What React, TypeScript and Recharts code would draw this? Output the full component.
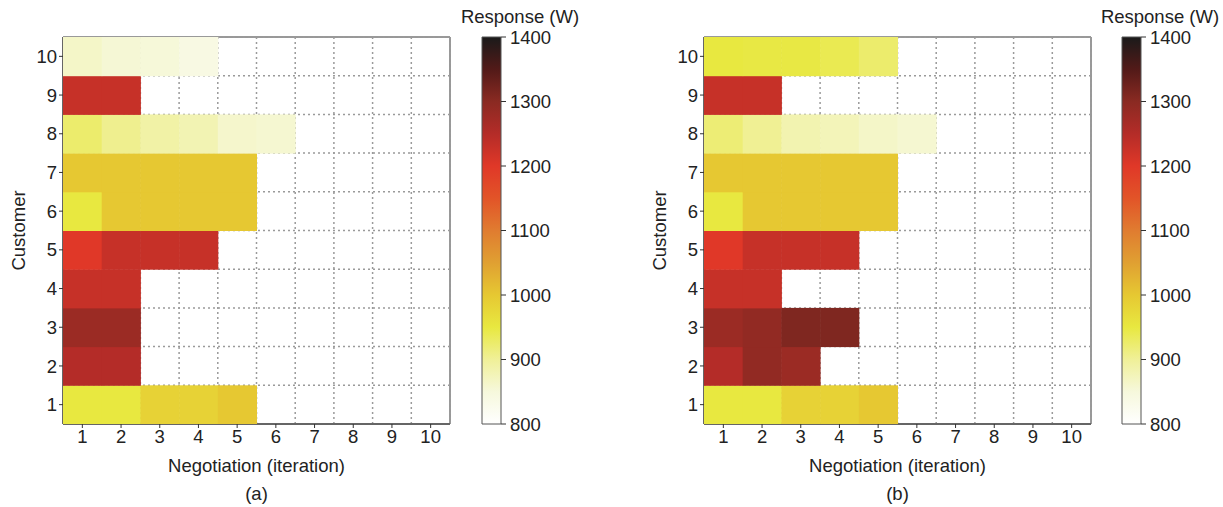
import {
  ScatterChart,
  Scatter,
  XAxis,
  YAxis,
  ReferenceLine,
  ReferenceArea,
  BarChart,
  Bar,
} from 'recharts'

const iterations = [1, 2, 3, 4, 5, 6, 7, 8, 9, 10]
const customers = [1, 2, 3, 4, 5, 6, 7, 8, 9, 10]
const boundaries = [0.5, 1.5, 2.5, 3.5, 4.5, 5.5, 6.5, 7.5, 8.5, 9.5, 10.5]
const colorTicks = [800, 900, 1000, 1100, 1200, 1300, 1400]
const colorRange = [{ name: 'bar', range: [800, 1400] }]

// Response (W) per customer (row 1..10), per negotiation iteration; null = no bid
const heatA: (number | null)[][] = [
  [950, 950, 985, 985, 1000, null, null, null, null, null],
  [1250, 1250, null, null, null, null, null, null, null, null],
  [1280, 1280, null, null, null, null, null, null, null, null],
  [1230, 1230, null, null, null, null, null, null, null, null],
  [1200, 1230, 1230, 1230, null, null, null, null, null, null],
  [950, 1000, 1000, 1000, 1000, null, null, null, null, null],
  [1000, 1000, 1000, 1000, 1000, null, null, null, null, null],
  [925, 905, 890, 880, 862, 858, null, null, null, null],
  [1230, 1230, null, null, null, null, null, null, null, null],
  [865, 855, 852, 840, null, null, null, null, null, null],
]

const heatB: (number | null)[][] = [
  [950, 950, 985, 985, 1000, null, null, null, null, null],
  [1250, 1290, 1280, null, null, null, null, null, null, null],
  [1280, 1290, 1310, 1310, null, null, null, null, null, null],
  [1230, 1230, null, null, null, null, null, null, null, null],
  [1200, 1230, 1230, 1230, null, null, null, null, null, null],
  [950, 1000, 1000, 1000, 1000, null, null, null, null, null],
  [1000, 1000, 1000, 1000, 1000, null, null, null, null, null],
  [920, 902, 882, 876, 865, 858, null, null, null, null],
  [1230, 1230, null, null, null, null, null, null, null, null],
  [950, 948, 948, 940, 925, null, null, null, null, null],
]

const colorStops: [number, string][] = [
  [800, '#ffffff'],
  [850, '#f6f8dc'],
  [900, '#f0f098'],
  [950, '#e8e840'],
  [1000, '#e6c832'],
  [1050, '#e0a032'],
  [1100, '#e07c30'],
  [1150, '#e25428'],
  [1200, '#e03828'],
  [1250, '#b42c28'],
  [1300, '#8a2a22'],
  [1350, '#521a18'],
  [1400, '#1a1a1a'],
]

const FONT = '"Liberation Sans", Arial, sans-serif'
const FS = 18.5
const PLOT = 387
const CELL = PLOT / 10

function hexToRgb(h: string) {
  return [1, 3, 5].map((i) => parseInt(h.slice(i, i + 2), 16))
}

function colorFor(v: number) {
  for (let i = 0; i < colorStops.length - 1; i++) {
    const [v0, c0] = colorStops[i]
    const [v1, c1] = colorStops[i + 1]
    if (v <= v1) {
      const t = Math.max(0, (v - v0) / (v1 - v0))
      const a = hexToRgb(c0)
      const b = hexToRgb(c1)
      const m = a.map((x, k) => Math.round(x + (b[k] - x) * t))
      return `rgb(${m[0]},${m[1]},${m[2]})`
    }
  }
  return colorStops[colorStops.length - 1][1]
}

function toPoints(grid: (number | null)[][]) {
  const pts: { x: number; y: number; v: number }[] = []
  customers.forEach((c, r) => {
    iterations.forEach((it, k) => {
      const v = grid[r][k]
      if (v != null) pts.push({ x: it, y: c, v })
    })
  })
  return pts
}

const tickStyle = { fontSize: FS, fill: '#222', fontFamily: FONT }

function Heatmap({ grid, left, tag }: { grid: (number | null)[][]; left: number; tag: string }) {
  const points = toPoints(grid)
  return (
    <div style={{ position: 'absolute', left, top: 0 }}>
      <ScatterChart width={460} height={507} margin={{ top: 37, right: 10, left: 18, bottom: 33 }}>
        <XAxis
          type="number"
          dataKey="x"
          domain={[0.5, 10.5]}
          ticks={iterations}
          allowDataOverflow
          tick={tickStyle}
          tickSize={4}
          height={50}
          stroke="#333"
          tickLine={{ stroke: '#333' }}
          label={{
            value: 'Negotiation (iteration)',
            position: 'insideBottom',
            offset: 2,
            style: { fontSize: FS, fill: '#222', fontFamily: FONT },
          }}
        />
        <YAxis
          type="number"
          dataKey="y"
          domain={[0.5, 10.5]}
          ticks={customers}
          allowDataOverflow
          tick={tickStyle}
          tickSize={4}
          width={45}
          stroke="#333"
          tickLine={{ stroke: '#333' }}
          label={{
            value: 'Customer',
            angle: -90,
            position: 'insideLeft',
            offset: 0,
            style: { fontSize: FS, fill: '#222', fontFamily: FONT, textAnchor: 'middle' },
          }}
        />
        <Scatter
          data={points}
          isAnimationActive={false}
          shape={(props: any) => {
            const { cx, cy, payload } = props
            return (
              <rect
                x={cx - CELL / 2}
                y={cy - CELL / 2}
                width={CELL + 0.5}
                height={CELL + 0.5}
                fill={colorFor(payload.v)}
              />
            )
          }}
        />
        {boundaries.map((b) => (
          <ReferenceLine key={`v${b}`} x={b} stroke="#9a9a9a" strokeWidth={1.5} strokeDasharray="2 3" />
        ))}
        {boundaries.map((b) => (
          <ReferenceLine key={`h${b}`} y={b} stroke="#9a9a9a" strokeWidth={1.5} strokeDasharray="2 3" />
        ))}
        <ReferenceArea x1={0.5} x2={10.5} y1={0.5} y2={10.5} fill="none" stroke="#333" strokeWidth={1} />
      </ScatterChart>
      <div
        style={{
          position: 'absolute',
          left: 63,
          width: PLOT,
          top: 483,
          textAlign: 'center',
          fontSize: FS,
          fontFamily: FONT,
          color: '#222',
        }}
      >
        {tag}
      </div>
    </div>
  )
}

function ColorBar({ left, id }: { left: number; id: string }) {
  return (
    <div style={{ position: 'absolute', left, top: 0 }}>
      <BarChart
        width={100}
        height={507}
        data={colorRange}
        barCategoryGap={0}
        margin={{ top: 37, right: 9, left: 12, bottom: 83 }}
      >
        <defs>
          <linearGradient id={id} x1="0" y1="1" x2="0" y2="0">
            {colorStops.map(([v, c]) => (
              <stop key={v} offset={`${((v - 800) / 600) * 100}%`} stopColor={c} />
            ))}
          </linearGradient>
        </defs>
        <XAxis dataKey="name" hide />
        <YAxis
          orientation="right"
          type="number"
          domain={[800, 1400]}
          ticks={colorTicks}
          tick={tickStyle}
          tickSize={5}
          tickMargin={4}
          width={60}
          axisLine={false}
          tickLine={{ stroke: '#333' }}
        />
        <Bar dataKey="range" fill={`url(#${id})`} stroke="#555" strokeWidth={1} isAnimationActive={false} />
      </BarChart>
      <div
        style={{
          position: 'absolute',
          left: -30,
          width: 160,
          top: 6,
          textAlign: 'center',
          fontSize: FS,
          fontFamily: FONT,
          color: '#222',
          whiteSpace: 'nowrap',
        }}
      >
        Response (W)
      </div>
    </div>
  )
}

export default function App() {
  return (
    <div style={{ position: 'absolute', left: 0, top: 0, width: 1223, height: 507, background: '#fff' }}>
      <Heatmap grid={heatA} left={0} tag="(a)" />
      <ColorBar left={470} id="gradA" />
      <Heatmap grid={heatB} left={641} tag="(b)" />
      <ColorBar left={1110} id="gradB" />
    </div>
  )
}
